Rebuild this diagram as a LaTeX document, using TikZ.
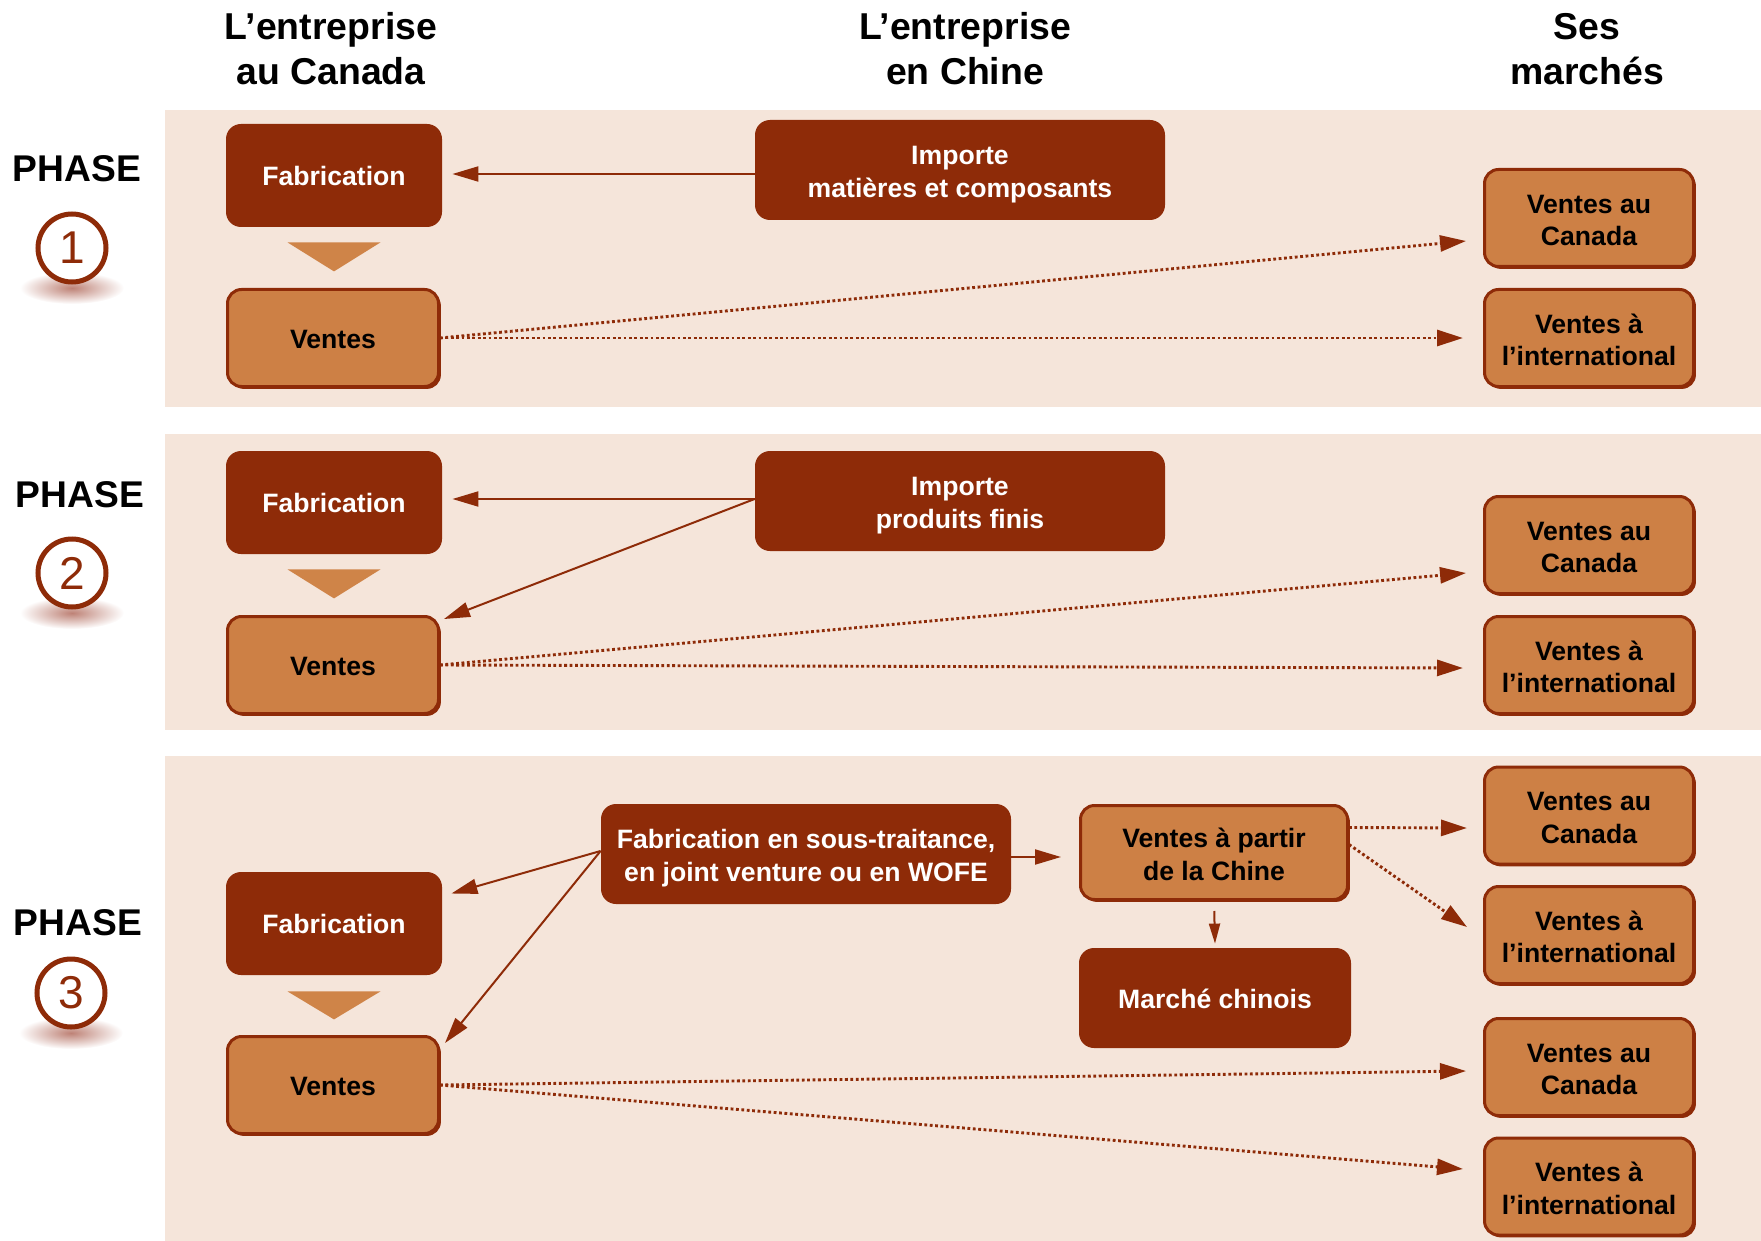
\documentclass[tikz,border=0pt]{standalone}
\usepackage{fontspec}
\setmainfont{Liberation Sans}
\usetikzlibrary{arrows.meta,calc,shadows}
\definecolor{brdark}{RGB}{142,43,8}
\definecolor{brlight}{RGB}{205,128,69}
\definecolor{bandbg}{RGB}{245,229,218}
\definecolor{trifill}{RGB}{207,132,72}
\definecolor{haze}{RGB}{190,130,118}
\begin{document}
\begin{tikzpicture}[x=0.5pt,y=-0.5pt,
  band/.style={fill=bandbg, draw=none},
  head/.style={font=\fontsize{18.7}{22.5}\selectfont\bfseries, align=center, inner sep=0pt},
  phase/.style={font=\fontsize{18.6}{22}\selectfont\bfseries, inner sep=0pt, anchor=base},
  num/.style={circle, draw=brdark, line width=2.5pt, fill=white, minimum size=34pt, inner sep=0pt,
    text=brdark, font=\fontsize{23}{23}\selectfont},
  % a zero-width rule sets the vertical placement of one-line texts
  firstline/.style={execute at begin node={\rule{0pt}{#1}}},
  boxtext/.style={font=\fontsize{13.3}{16.3}\selectfont\bfseries, align=center, inner sep=0pt},
  darkbox/.style={boxtext, rectangle, fill=brdark, text=white, rounded corners=7.5pt, firstline=10.6pt},
  darktwo/.style={darkbox, text height=30.3pt},
  lightbox/.style={boxtext, rectangle, fill=brlight, draw=brdark, line width=1.5pt, text=black,
    rounded corners=7pt, general shadow={fill=brdark, shadow xshift=1.2pt, shadow yshift=-1.2pt},
    firstline=10.6pt},
  lighttwo/.style={lightbox, text height=28pt},
  colbox/.style={minimum width=108pt, minimum height=51.5pt},
  colboxl/.style={minimum width=105.5pt, minimum height=48.5pt},
  mktbox/.style={lighttwo, minimum width=104.5pt, minimum height=48.5pt},
  widebox/.style={darktwo, minimum width=205pt, minimum height=50pt},
  midboxl/.style={lighttwo, minimum width=133.5pt, minimum height=47pt},
  midbox/.style={darkbox, minimum width=136pt, minimum height=50pt},
  tri/.style={fill=trifill},
  arr/.style={draw=brdark, line width=1pt, -{Triangle[length=13pt,width=7.5pt]}},
  smallarr/.style={draw=brdark, line width=1pt, -{Triangle[length=10pt,width=5.5pt]}},
  dotarr/.style={draw=brdark, line width=1.45pt, dash pattern=on 1.4pt off 1.3pt,
    -{Triangle[length=13pt,width=8pt]}},
  glow/.style={inner color=haze, outer color=white}
]
\useasboundingbox (0,0) rectangle (1761,1241);

% background bands of the three phases
\fill[band] (165,110) rectangle (1761,407);
\fill[band] (165,434) rectangle (1761,730);
\fill[band] (165,756) rectangle (1761,1241);

% column headings
\node[head] (h1) at (331,49) {L’entreprise\\au Canada};
\node[head] (h2) at (965,49) {L’entreprise\\en Chine};
\node[head] (h3) at (1587,49) {Ses\\marchés};

% phase labels with numbered discs
\node[phase] (ph1) at (77,182) {PHASE};
\node[phase] (ph2) at (80,507) {PHASE};
\node[phase] (ph3) at (78,935) {PHASE};
\shade[glow] (72,288) ellipse (26pt and 8pt);
\shade[glow] (72,613) ellipse (26pt and 8pt);
\shade[glow] (71,1033) ellipse (26pt and 8pt);
\node[num] (n1) at (72,248) {1};
\node[num] (n2) at (72,573) {2};
\node[num] (n3) at (71,993) {3};

% ---------- phase 1 ----------
\node[darkbox, colbox] (fab1) at (334,175.5) {Fabrication};
\node[lightbox, colboxl] (ven1) at (333,338) {Ventes};
\node[widebox] (imp1) at (960,170) {Importe\\matières et composants};
\node[mktbox] (can1) at (1589,218) {Ventes au\\Canada};
\node[mktbox] (int1) at (1589,338) {Ventes à\\l’international};
\fill[tri] ($(fab1.south)+(-46.5,15)$) -- ++(93,0) -- ++(-46.5,29) -- cycle;
\coordinate (s1) at ($(imp1.west)+(0,4)$);
\draw[arr] (s1) -- ($(s1 -| fab1.east)+(10,0)$);
\draw[dotarr] (ven1.east) -- ($(can1.west)+(-17,23)$);
\draw[dotarr] (ven1.east) -- ($(int1.west)+(-20,0)$);

% ---------- phase 2 ----------
\node[darkbox, colbox] (fab2) at (334,502.5) {Fabrication};
\node[lightbox, colboxl] (ven2) at (333,665) {Ventes};
\node[widebox] (imp2) at (960,501) {Importe\\produits finis};
\node[mktbox] (can2) at (1589,545) {Ventes au\\Canada};
\node[mktbox] (int2) at (1589,665) {Ventes à\\l’international};
\fill[tri] ($(fab2.south)+(-46.5,15)$) -- ++(93,0) -- ++(-46.5,29) -- cycle;
\coordinate (s2) at ($(imp2.west)+(0,-2)$);
\draw[arr] (s2) -- ($(s2 -| fab2.east)+(10,0)$);
\draw[arr] (s2) -- ($(ven2.north east)+(4,4)$);
\draw[dotarr] (ven2.east) -- ($(can2.west)+(-17,28)$);
\draw[dotarr] (ven2.east) -- ($(int2.west)+(-20,3)$);

% ---------- phase 3 ----------
\node[darkbox, colbox] (fab3) at (334,923.5) {Fabrication};
\node[lightbox, colboxl] (ven3) at (333,1085) {Ventes};
\node[widebox] (sub) at (806,854) {Fabrication en sous-traitance,\\en joint venture ou en WOFE};
\node[midboxl] (vap) at (1214,852.5) {Ventes à partir\\de la Chine};
\node[midbox] (mc) at (1215,998) {Marché chinois};
\node[mktbox] (can3) at (1589,815.5) {Ventes au\\Canada};
\node[mktbox] (int3) at (1589,935) {Ventes à\\l’international};
\node[mktbox] (can4) at (1589,1067) {Ventes au\\Canada};
\node[mktbox] (int4) at (1589,1186.5) {Ventes à\\l’international};
\fill[tri] ($(fab3.south)+(-46.5,16)$) -- ++(93,0) -- ++(-46.5,28) -- cycle;
\coordinate (s3) at ($(sub.west)+(0,-3)$);
\draw[arr] (s3) -- ($(fab3.east)+(9,-30)$);
\draw[arr] (s3) -- ($(ven3.north east)+(5,8)$);
\draw[arr] ($(sub.east)+(0,3)$) -- ($(vap.west)+(-18,4.5)$);
\draw[smallarr, shorten <=5pt] (vap.south) -- ($(mc.north)+(0,-4)$);
\draw[dotarr] ($(vap.east)+(0,-25)$) -- ($(can3.west)+(-16,12.5)$);
\draw[dotarr] ($(vap.east)+(0,-8)$) -- ($(int3.west)+(-16,-8)$);
\draw[dotarr] (ven3.east) -- ($(can4.west)+(-17,4)$);
\draw[dotarr] (ven3.east) -- ($(int4.west)+(-20,-17.5)$);
\end{tikzpicture}
\end{document}
